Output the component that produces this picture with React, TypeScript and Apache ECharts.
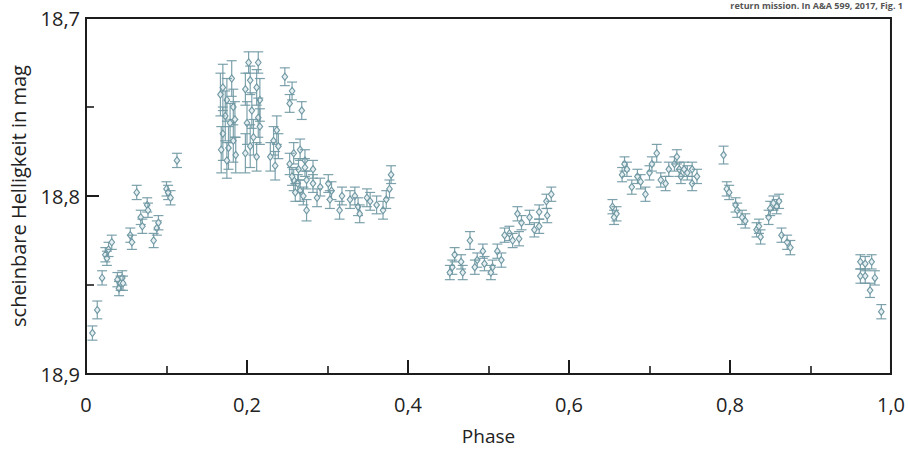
import React, { useEffect, useRef } from "react";
import * as echarts from "echarts";

// [phase, magnitude, error]
const riseA: number[][] = [
  [0.008, 18.877, 0.004], [0.014, 18.864, 0.005], [0.020, 18.846, 0.004], [0.024, 18.833, 0.004],
  [0.026, 18.835, 0.004], [0.028, 18.830, 0.004], [0.032, 18.826, 0.004], [0.039, 18.847, 0.004],
  [0.041, 18.852, 0.004], [0.043, 18.849, 0.004], [0.045, 18.846, 0.004], [0.046, 18.849, 0.004],
  [0.055, 18.822, 0.004], [0.057, 18.826, 0.004], [0.063, 18.798, 0.004], [0.068, 18.812, 0.004],
  [0.070, 18.817, 0.004], [0.076, 18.805, 0.004], [0.077, 18.808, 0.004], [0.084, 18.825, 0.004],
  [0.088, 18.818, 0.004], [0.090, 18.815, 0.004], [0.100, 18.796, 0.004], [0.102, 18.798, 0.004],
  [0.105, 18.801, 0.004], [0.113, 18.780, 0.004],
];

const peakA: number[][] = [
  [0.170, 18.739, 0.013], [0.181, 18.734, 0.010], [0.175, 18.746, 0.012], [0.183, 18.750, 0.010],
  [0.173, 18.755, 0.014], [0.179, 18.759, 0.011], [0.170, 18.765, 0.015], [0.183, 18.769, 0.012],
  [0.177, 18.773, 0.012], [0.175, 18.780, 0.010], [0.167, 18.743, 0.012], [0.185, 18.757, 0.010],
  [0.168, 18.774, 0.013], [0.186, 18.777, 0.010],
  [0.202, 18.725, 0.006], [0.214, 18.725, 0.006], [0.204, 18.735, 0.008], [0.212, 18.739, 0.010],
  [0.198, 18.740, 0.009], [0.216, 18.746, 0.012], [0.206, 18.752, 0.010], [0.214, 18.756, 0.011],
  [0.200, 18.759, 0.012], [0.216, 18.761, 0.010], [0.208, 18.767, 0.010], [0.204, 18.772, 0.012],
  [0.198, 18.776, 0.011], [0.212, 18.778, 0.008],
  [0.237, 18.763, 0.008], [0.233, 18.769, 0.008], [0.239, 18.772, 0.007], [0.229, 18.778, 0.008],
  [0.235, 18.783, 0.008],
  [0.247, 18.733, 0.005], [0.256, 18.741, 0.005], [0.253, 18.748, 0.005], [0.268, 18.752, 0.005],
];

const declineA: number[][] = [
  [0.258, 18.776, 0.006], [0.266, 18.774, 0.006], [0.253, 18.782, 0.006], [0.264, 18.785, 0.006],
  [0.272, 18.780, 0.006], [0.258, 18.791, 0.006], [0.266, 18.797, 0.006], [0.256, 18.789, 0.005],
  [0.263, 18.793, 0.005], [0.260, 18.798, 0.005], [0.272, 18.784, 0.005], [0.274, 18.791, 0.005],
  [0.270, 18.800, 0.005], [0.274, 18.808, 0.006], [0.282, 18.785, 0.005], [0.282, 18.793, 0.005],
  [0.291, 18.795, 0.005], [0.287, 18.801, 0.005], [0.301, 18.793, 0.005], [0.305, 18.797, 0.005],
  [0.303, 18.802, 0.005], [0.318, 18.800, 0.005], [0.315, 18.808, 0.005], [0.328, 18.802, 0.005],
  [0.334, 18.800, 0.005], [0.338, 18.806, 0.005], [0.340, 18.810, 0.005], [0.349, 18.801, 0.005],
  [0.353, 18.803, 0.005], [0.361, 18.805, 0.005], [0.369, 18.808, 0.005], [0.373, 18.802, 0.005],
  [0.377, 18.796, 0.005], [0.379, 18.788, 0.005],
];

const riseB: number[][] = [
  [0.458, 18.833, 0.004], [0.455, 18.840, 0.004], [0.466, 18.837, 0.004], [0.452, 18.843, 0.004],
  [0.468, 18.843, 0.004], [0.477, 18.825, 0.005], [0.486, 18.836, 0.004], [0.483, 18.840, 0.004],
  [0.493, 18.831, 0.004], [0.495, 18.838, 0.004], [0.505, 18.840, 0.004], [0.503, 18.843, 0.004],
  [0.511, 18.831, 0.004], [0.516, 18.836, 0.004], [0.520, 18.822, 0.004], [0.526, 18.821, 0.004],
  [0.530, 18.825, 0.004], [0.538, 18.824, 0.004], [0.541, 18.815, 0.004], [0.536, 18.810, 0.004],
  [0.551, 18.812, 0.004], [0.557, 18.819, 0.004], [0.563, 18.817, 0.004], [0.563, 18.809, 0.004],
  [0.573, 18.811, 0.004], [0.572, 18.803, 0.004], [0.578, 18.799, 0.004],
];

const peakB: number[][] = [
  [0.654, 18.806, 0.004], [0.659, 18.810, 0.004], [0.656, 18.812, 0.004], [0.669, 18.782, 0.004],
  [0.666, 18.788, 0.004], [0.672, 18.785, 0.004], [0.678, 18.795, 0.004], [0.685, 18.789, 0.004],
  [0.689, 18.792, 0.004], [0.695, 18.799, 0.004], [0.700, 18.787, 0.004], [0.703, 18.782, 0.004],
  [0.709, 18.776, 0.005], [0.714, 18.791, 0.004], [0.720, 18.793, 0.004], [0.724, 18.785, 0.004],
  [0.731, 18.782, 0.004], [0.734, 18.778, 0.004], [0.737, 18.785, 0.004], [0.739, 18.789, 0.004],
  [0.743, 18.785, 0.004], [0.747, 18.787, 0.004], [0.753, 18.785, 0.004], [0.753, 18.793, 0.004],
  [0.759, 18.789, 0.004],
];

const fallB: number[][] = [
  [0.792, 18.777, 0.005], [0.796, 18.796, 0.004], [0.799, 18.798, 0.004], [0.807, 18.805, 0.004],
  [0.809, 18.808, 0.004], [0.815, 18.812, 0.004], [0.819, 18.814, 0.004], [0.833, 18.819, 0.004],
  [0.836, 18.817, 0.004], [0.838, 18.823, 0.004], [0.848, 18.812, 0.004], [0.850, 18.807, 0.004],
  [0.854, 18.804, 0.004], [0.858, 18.806, 0.004], [0.861, 18.803, 0.004], [0.864, 18.822, 0.004],
  [0.871, 18.826, 0.004], [0.875, 18.829, 0.004],
  [0.962, 18.837, 0.004], [0.968, 18.838, 0.004], [0.976, 18.837, 0.004], [0.962, 18.845, 0.004],
  [0.968, 18.845, 0.004], [0.980, 18.846, 0.004], [0.974, 18.853, 0.004], [0.988, 18.865, 0.004],
];

const xTicks = [0, 0.2, 0.4, 0.6, 0.8, 1.0];
const yTicks = [18.7, 18.8, 18.9];

const POINT_COLOR = "#6f98a3";
const INK = "#1c1c1c";
const FONT = "'Open Sans', 'Noto Sans', sans-serif";

const renderErr = (params: any, api: any) => {
  const x = api.value(0);
  const y = api.value(1);
  const e = api.value(2);
  const p = api.coord([x, y]);
  const t = api.coord([x, y - e]);
  const b = api.coord([x, y + e]);
  const cap = 5;
  const st = { stroke: POINT_COLOR, lineWidth: 1.2, opacity: 0.9 };
  const dx = 2.8;
  const dy = 3.6;
  return {
    type: "group",
    children: [
      { type: "line", shape: { x1: p[0], y1: t[1], x2: p[0], y2: b[1] }, style: st },
      { type: "line", shape: { x1: p[0] - cap, y1: t[1], x2: p[0] + cap, y2: t[1] }, style: st },
      { type: "line", shape: { x1: p[0] - cap, y1: b[1], x2: p[0] + cap, y2: b[1] }, style: st },
      {
        type: "polygon",
        shape: { points: [[p[0], p[1] - dy], [p[0] + dx, p[1]], [p[0], p[1] + dy], [p[0] - dx, p[1]]] },
        style: { fill: "#e6eff1", stroke: POINT_COLOR, lineWidth: 1.1 },
      },
    ],
  };
};

export default function App() {
  const ref = useRef<HTMLDivElement>(null);
  useEffect(() => {
    if (!ref.current) return;
    const chart = echarts.init(ref.current, null, { renderer: "svg" });
    const all = [...riseA, ...peakA, ...declineA, ...riseB, ...peakB, ...fallB];
    chart.setOption({
      animation: false,
      backgroundColor: "#ffffff",
      grid: {
        left: 85.5, right: 15, top: 18, bottom: 76,
        show: true, borderColor: INK, borderWidth: 2, backgroundColor: "transparent",
      },
      xAxis: {
        type: "value", min: xTicks[0], max: xTicks[xTicks.length - 1], interval: 0.2,
        name: "Phase", nameLocation: "middle", nameGap: 52,
        nameTextStyle: { fontFamily: FONT, fontSize: 19, color: "#222" },
        axisLine: { show: true, lineStyle: { color: INK, width: 2 } },
        axisTick: { show: true, inside: true, length: 14, lineStyle: { color: INK, width: 2 } },
        minorTick: { show: true, splitNumber: 2, length: 8, lineStyle: { color: INK, width: 1.6 } },
        splitLine: { show: false },
        axisLabel: {
          margin: 20, fontFamily: FONT, fontSize: 20, color: "#222",
          formatter: (v: number) => (v === 0 ? "0" : v.toFixed(1).replace(".", ",")),
        },
      },
      yAxis: {
        type: "value", min: yTicks[0], max: yTicks[yTicks.length - 1], interval: 0.1, inverse: true,
        name: "scheinbare Helligkeit in mag", nameLocation: "middle", nameGap: 58,
        nameTextStyle: { fontFamily: FONT, fontSize: 20, color: "#222" },
        axisLine: { show: true, lineStyle: { color: INK, width: 2 } },
        axisTick: { show: true, inside: true, length: 13, lineStyle: { color: INK, width: 2 } },
        minorTick: { show: true, splitNumber: 2, length: 8, lineStyle: { color: INK, width: 1.6 } },
        splitLine: { show: false },
        axisLabel: {
          margin: 6, fontFamily: FONT, fontSize: 20, color: "#222",
          formatter: (v: number) => v.toFixed(1).replace(".", ","),
        },
      },
      graphic: [
        {
          type: "text", right: 5, top: 1,
          style: { text: "return mission. In A&A 599, 2017, Fig. 1", fontFamily: FONT, fontSize: 9, fontWeight: "bold", fill: "#555" },
        },
      ],
      series: [
        {
          type: "custom",
          renderItem: renderErr,
          data: all,
          encode: { x: 0, y: 1 },
          clip: false,
          z: 3,
        },
      ],
    });
    return () => chart.dispose();
  }, []);
  return <div ref={ref} style={{ position: "fixed", left: 0, top: 0, width: 908, height: 450 }} />;
}
